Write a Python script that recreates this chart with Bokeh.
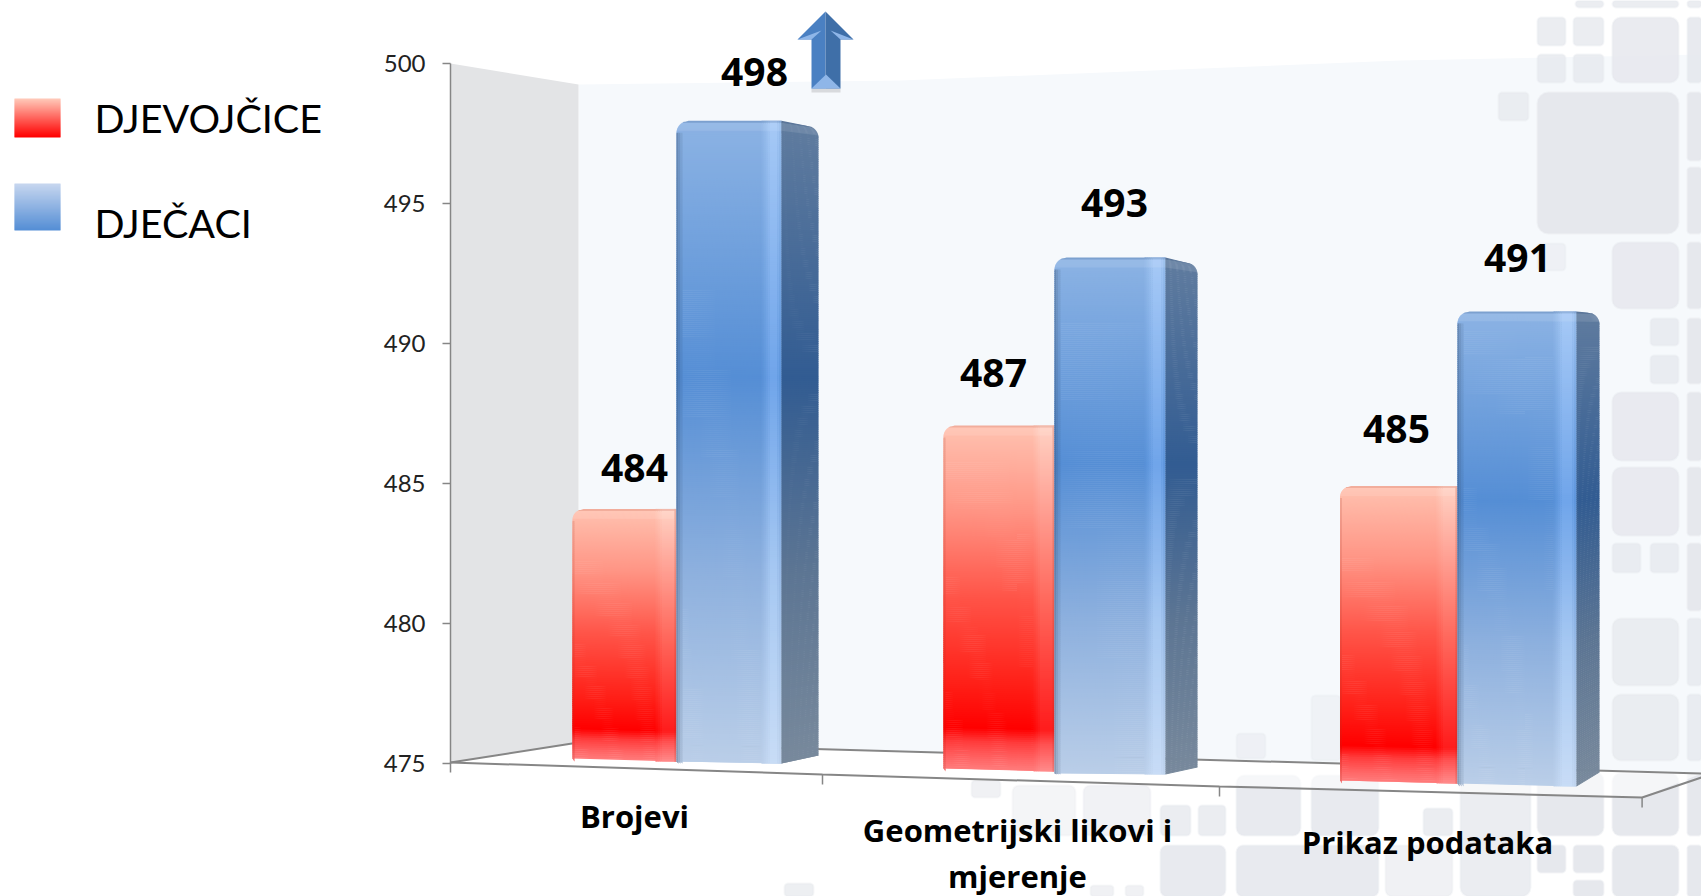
from math import sqrt, cos, sin, pi
from bokeh.plotting import figure
from bokeh.models import LinearAxis, FixedTicker, Range1d
from bokeh.core.properties import value
from bokeh.embed import file_html
from bokeh.resources import INLINE

# ---- chart values ----
series_names = ["DJEVOJČICE", "DJEČACI"]
categories = ["Brojevi", "Geometrijski likovi i mjerenje", "Prikaz podataka"]
category_lines = [["Brojevi"], ["Geometrijski likovi i", "mjerenje"], ["Prikaz podataka"]]
djevojcice = [484, 487, 485]
djecaci = [498, 493, 491]
y_ticks = [475, 480, 485, 490, 495, 500]

# ---- page geometry: px coordinates equal reference pixels ----
W, H = 1701, 896
PX_UNIT = 28.0
BASE_PX = 763.0
FONT = "Lato"
BOLD_FONT = "Open Sans"


def d(py):
    return y_ticks[0] + (BASE_PX - py) / PX_UNIT


p = figure(width=W, height=H, output_backend="svg", toolbar_location=None,
           x_range=Range1d(0, W), y_range=Range1d(d(H), d(0)),
           x_axis_type=None, y_axis_location=None, background_fill_color="white",
           border_fill_color="white", outline_line_color=None)
p.min_border_left = p.min_border_right = p.min_border_top = p.min_border_bottom = 0
p.min_border = 0
p.grid.visible = False
p.extra_y_ranges = {"px": Range1d(H, 0)}


def hexrgb(c):
    return tuple(int(c[i:i + 2], 16) for i in (1, 3, 5))


def tohex(c):
    return "#%02x%02x%02x" % tuple(int(round(max(0, min(255, v)))) for v in c)


def mix(a, b, f):
    return tuple(x + (y - x) * f for x, y in zip(a, b))


def grad(stops, t):
    for (t0, c0), (t1, c1) in zip(stops, stops[1:]):
        if t <= t1:
            return mix(hexrgb(c0), hexrgb(c1), (t - t0) / max(t1 - t0, 1e-6))
    return hexrgb(stops[-1][1])


def blend_stops(a, b, f):
    ts = sorted({t for t, _ in a} | {t for t, _ in b})
    return [(t, tohex(mix(grad(a, t), grad(b, t), f))) for t in ts]


RED = [(0, "#ffc2b0"), (.25, "#ff9484"), (.5, "#ff5448"), (.75, "#ff2018"), (.88, "#ff0000"),
       (.92, "#ff3c3c"), (.97, "#ff6666"), (1, "#ff7c7c")]
RED_HI = [(0, "#ffd2c4"), (.5, "#ff6a5e"), (.88, "#ff1c1c"), (.92, "#ff5050"), (1, "#ff8c8c")]
BLUE = [(0, "#8cb3e4"), (.4, "#558ed5"), (.7, "#8db0de"), (1, "#bacee8")]
BLUE_HI = [(0, "#a6c9f6"), (.4, "#70a5ea"), (.7, "#a6c8f2"), (1, "#c8dcf6")]
SIDE = [(0, "#607c9f"), (.4, "#325c92"), (.7, "#5c7593"), (1, "#78899c")]
DARK = hexrgb("#24364f")
DARK_RED = hexrgb("#a03020")


def face(x0, x1, tl, tr, bl, br, stops, rl=0.0, rr=0.0, edge=None, edge_f=0.0, bevel=True, skip=0):
    """One face of a column as thin slices, to carry the vertical gradient."""
    xs, ys, cols = [], [], []
    height = (max(tl, tr) - min(bl, br)) * PX_UNIT
    r = max(rl, rr, 10)
    cuts = [s for s in range(int(r) + 1)]
    s = r + 2
    while s < height:
        cuts.append(s)
        s += 2
    cuts.append(height)

    def inset(rad, s):
        if rad <= 0 or s >= rad:
            return 0.0
        return rad - sqrt(rad * rad - (rad - s) ** 2)

    for a, b in zip(cuts, cuts[1:]):
        if b <= skip:
            continue
        ta, tb = a / height, b / height
        tb2 = min(1.0, (b + 0.6) / height)
        yla, yra = tl + (bl - tl) * ta, tr + (br - tr) * ta
        ylb, yrb = tl + (bl - tl) * tb2, tr + (br - tr) * tb2
        xs.append([x0 + inset(rl, a), x1 - inset(rr, a), x1 - inset(rr, b), x0 + inset(rl, b)])
        ys.append([yla, yra, yrb, ylb])
        c = grad(stops, (ta + tb) / 2)
        if bevel:
            if a < 2:
                c = mix(c, edge or DARK, 0.14)
            elif a < 10:
                c = mix(c, (255, 255, 255), 0.10)
        if edge_f:
            c = mix(c, edge or DARK, edge_f)
        cols.append(tohex(c))
    p.patches(xs, ys, fill_color=cols, line_color=None, line_alpha=0)


# ---- background tiles (decor of the slide) ----
TILE = "#e6e8ed"
tiles = [
    (1575, 0, 1603, 7, .8), (1612, 0, 1678, 7, .8), (1687, 0, 1701, 7, .8),
    (1537, 17, 1565, 45, .8), (1573, 17, 1603, 45, .8), (1612, 17, 1678, 82, .85),
    (1687, 17, 1701, 82, .9),
    (1537, 54, 1565, 82, .8), (1573, 54, 1603, 82, .8),
    (1498, 92, 1528, 120, .7), (1537, 92, 1678, 233, 1),
    (1687, 92, 1701, 160, 1), (1687, 167, 1701, 233, 1),
    (1537, 243, 1565, 270, .5), (1612, 242, 1678, 308, .85), (1687, 242, 1701, 308, 1),
    (1650, 318, 1678, 345, .8), (1650, 355, 1678, 383, .8), (1687, 318, 1701, 383, 1),
    (1612, 392, 1678, 460, .85), (1687, 392, 1701, 460, 1),
    (1612, 467, 1678, 535, .85), (1687, 467, 1701, 535, 1),
    (1612, 543, 1640, 572, .8), (1650, 543, 1678, 572, .8), (1687, 543, 1701, 610, 1),
    (1612, 618, 1678, 685, .7), (1687, 618, 1701, 685, .8),
    (1612, 694, 1678, 760, .7), (1687, 694, 1701, 760, .8),
    (1612, 773, 1678, 835, 1), (1687, 773, 1701, 835, 1),
    (1612, 845, 1678, 896, 1), (1687, 845, 1701, 896, 1),
    (1537, 772, 1603, 835, 1), (1460, 772, 1530, 896, .8),
    (1423, 808, 1452, 835, .8), (1537, 845, 1565, 872, 1), (1573, 845, 1603, 872, 1),
    (1573, 880, 1603, 896, 1),
    (1311, 695, 1340, 760, .4), (1236, 733, 1265, 758, .5),
    (1236, 775, 1300, 835, .9), (1311, 775, 1378, 835, .9),
    (1160, 805, 1190, 835, .8), (1198, 805, 1225, 835, .8),
    (1160, 845, 1225, 896, .9), (1236, 845, 1378, 896, .9),
    (1012, 785, 1075, 835, .45), (1083, 785, 1150, 835, .55),
    (971, 780, 1000, 797, .6), (784, 883, 813, 896, .7),
    (1090, 885, 1113, 896, .6), (1125, 885, 1143, 896, .6),
    (1385, 845, 1452, 896, .6),
]


def rounded(x0, y0, x1, y1):
    r = max(3.0, min(11.0, 0.13 * min(x1 - x0, max(y1 - y0, 28))))
    xs, ys = [], []
    for cx, cy, a0 in ((x1 - r, y0 + r, -90), (x1 - r, y1 - r, 0), (x0 + r, y1 - r, 90), (x0 + r, y0 + r, 180)):
        for k in range(5):
            a = (a0 + k * 22.5) * pi / 180
            xs.append(cx + r * cos(a))
            ys.append(cy + r * sin(a))
    return xs, ys


# ---- walls and floor ----
p.patch([578, 900, 1400, 1701, 1701, 578], [84, 80, 60, 54, 773, 742], y_range_name="px",
        fill_color="#f6f9fc", line_color=None)
p.patch([450, 578, 578, 450], [63, 84, 742, 762], y_range_name="px",
        fill_color="#e3e4e6", line_color=None)
tx, ty, ta = [], [], []
for x0, y0, x1, y1, a in tiles:
    xx, yy = rounded(x0, y0, x1, y1)
    tx.append(xx); ty.append(yy); ta.append(a)
p.patches(tx, ty, y_range_name="px", fill_color=TILE, fill_alpha=ta,
          line_color=TILE, line_alpha=[a * .45 for a in ta], line_width=2)
p.patch([450, 578, 1701, 1641, 450], [762, 742, 773, 797, 762], y_range_name="px",
        fill_color="white", fill_alpha=0.6, line_color=None)
AX = "#868686"
p.multi_line([[450, 578], [578, 1701], [450, 822, 1219, 1641.6, 1701]],
             [[762, 742], [742, 773], [762, 774, 786, 797, 777]],
             y_range_name="px", line_color=AX, line_width=2)
p.segment([450, 822, 1219, 1641.6], [762, 774, 786, 797], [450, 822, 1219, 1641.6],
          [772, 784, 796, 807], y_range_name="px", line_color=AX, line_width=1.5)

# ---- columns: layout per group ----
K = [27.9, 28.7, 29.6]        # px per unit at each group's depth
RED_X = [(572, 676), (943, 1054), (1339.5, 1457)]
RED_BASE = [(758, 761), (768, 771), (780, 783)]
BLUE_X = [(676, 767, 781, 818), (1054, 1150, 1165, 1197), (1457, 1559, 1576, 1599)]
BLUE_BASE = [(761, 763, 755), (773, 774, 767), (783, 786, 772)]
SIDE_DROP = [5, 5, 1]


def top(v, g, base_px):
    return d(base_px) + (v - y_ticks[0]) * K[g] / PX_UNIT


for g in range(3):
    v = djevojcice[g]
    x0, x1 = RED_X[g]
    bl, br = RED_BASE[g]
    t = top(v, g, (bl + br) / 2)
    face(x0, x1, t, t, d(bl), d(br), RED, rl=11, edge=DARK_RED)
    face(x0, x0 + 2, t, t, d(bl), d(br), RED, edge=DARK_RED, edge_f=.16, bevel=False, skip=12)
    for i, f in enumerate((.25, .5, .75)):
        face(x1 - 21 + i * 2, x1 - 19 + i * 2, t, t, d(br), d(br), blend_stops(RED, RED_HI, f), edge=DARK_RED)
    face(x1 - 15, x1, t, t, d(br), d(br), RED_HI, edge=DARK_RED)
    face(x1 - 2, x1, t, t, d(br), d(br), RED_HI, edge=DARK_RED, edge_f=.2, bevel=False)

    v = djecaci[g]
    x0, xs0, xs1, xs2 = BLUE_X[g]
    bl, bm, be = BLUE_BASE[g]
    t = top(v, g, (bl + bm) / 2)
    face(x0, xs1, t, t, d(bl), d(bm), BLUE, rl=12)
    for i, f in enumerate((.32, .2, .1)):
        face(x0 + i * 2, x0 + 2 + i * 2, t, t, d(bl), d(bm), BLUE, edge_f=f, bevel=False, skip=13)
    for i, f in enumerate((.15, .35, .55, .8)):
        face(xs0 - 6 + i * 2, xs0 - 4 + i * 2, t, t, d(bm), d(bm), blend_stops(BLUE, BLUE_HI, f))
    face(xs0 + 2, xs1 - 4, t, t, d(bm), d(bm), BLUE_HI)
    face(xs1 - 4, xs1 - 2, t, t, d(bm), d(bm), blend_stops(BLUE, BLUE_HI, .75))
    face(xs1 - 2, xs1, t, t, d(bm), d(bm), blend_stops(BLUE, BLUE_HI, .4))
    face(xs1, xs2, t, t - SIDE_DROP[g] / PX_UNIT, d(bm), d(be), SIDE, rr=12, edge=(60, 85, 120))

# ---- arrow ----
p.patch([811, 840, 840, 811], [88, 88, 92, 92], y_range_name="px", fill_color="#808080",
        fill_alpha=.25, line_color=None)
p.patch([825, 825, 811, 811, 797], [11, 88, 88, 39, 39], y_range_name="px", fill_color="#4a80c2", line_color=None)
p.patch([825, 825, 840, 840, 853], [11, 88, 88, 39, 39], y_range_name="px", fill_color="#3f6fa8", line_color=None)
p.patches([[797, 811, 821], [853, 840, 830], [811, 840, 825.5]],
          [[39, 39, 30], [39, 39, 30], [88, 88, 74]], y_range_name="px",
          fill_color="#8fb6e8", line_color=None)

# ---- value labels ----
value_offsets_dje = [41, 53, 57]
value_offsets_dec = [49, 54, 53]
value_x_dje = [634, 993, 1396]
value_x_dec = [754, 1114, 1517]
lx, ly, lt = [], [], []
for g in range(3):
    b = RED_BASE[g]
    lx.append(value_x_dje[g]); lt.append(str(djevojcice[g]))
    ly.append(top(djevojcice[g], g, sum(b) / 2) + value_offsets_dje[g] / PX_UNIT)
    b = BLUE_BASE[g][:2]
    lx.append(value_x_dec[g]); lt.append(str(djecaci[g]))
    ly.append(top(djecaci[g], g, sum(b) / 2) + value_offsets_dec[g] / PX_UNIT)
p.text(lx, ly, text=lt, text_font=value(BOLD_FONT), text_font_style="bold", text_font_size="39px",
       text_align="center", text_baseline="alphabetic", text_color="black")

# ---- category labels ----
cat_x = [634, 1017, 1427]
cat_base = [815, 829, 841]
CAT_LEAD = 46
cx, cy, ct = [], [], []
for g, lines in enumerate(category_lines):
    for i, s in enumerate(lines):
        cx.append(cat_x[g]); cy.append(cat_base[g] + i * CAT_LEAD); ct.append(s)
p.text(cx, cy, text=ct, y_range_name="px", text_font=value(BOLD_FONT), text_font_style="bold",
       text_font_size="31px", text_align="center", text_baseline="alphabetic", text_color="black")

# ---- legend ----
swatches = [(14, 60, 98, 137, [(0, "#ffc8b8"), (1, "#ff0000")]),
            (14, 60, 183, 230, [(0, "#c6d6ef"), (1, "#558ed5")])]
for x0, x1, y0, y1, st in swatches:
    n = int(y1 - y0)
    p.quad(left=[x0] * n, right=[x1] * n, top=[y0 + i for i in range(n)],
           bottom=[y0 + i + 1.4 if i < n - 1 else y1 for i in range(n)],
           y_range_name="px", fill_color=[tohex(grad(st, i / (n - 1))) for i in range(n)],
           line_color=None, line_alpha=0)
p.text([94, 94], [117, 222], text=series_names, y_range_name="px", text_font=value(FONT),
       text_font_size="39.5px", text_align="left", text_baseline="alphabetic", text_color="black")

# ---- y axis ----
yaxis = LinearAxis(ticker=FixedTicker(ticks=y_ticks), bounds=(y_ticks[0], y_ticks[-1]),
                   fixed_location=450)
yaxis.axis_line_color = AX
yaxis.axis_line_width = 1.5
yaxis.major_tick_line_color = AX
yaxis.major_tick_line_width = 1.5
yaxis.major_tick_in = 0
yaxis.major_tick_out = 8
yaxis.minor_tick_line_color = None
yaxis.major_label_standoff = 17
yaxis.major_label_text_font = FONT
yaxis.major_label_text_font_size = "24px"
yaxis.major_label_text_color = "#222222"
p.add_layout(yaxis, "left")

open("out.html", "w").write(file_html(p, INLINE))
